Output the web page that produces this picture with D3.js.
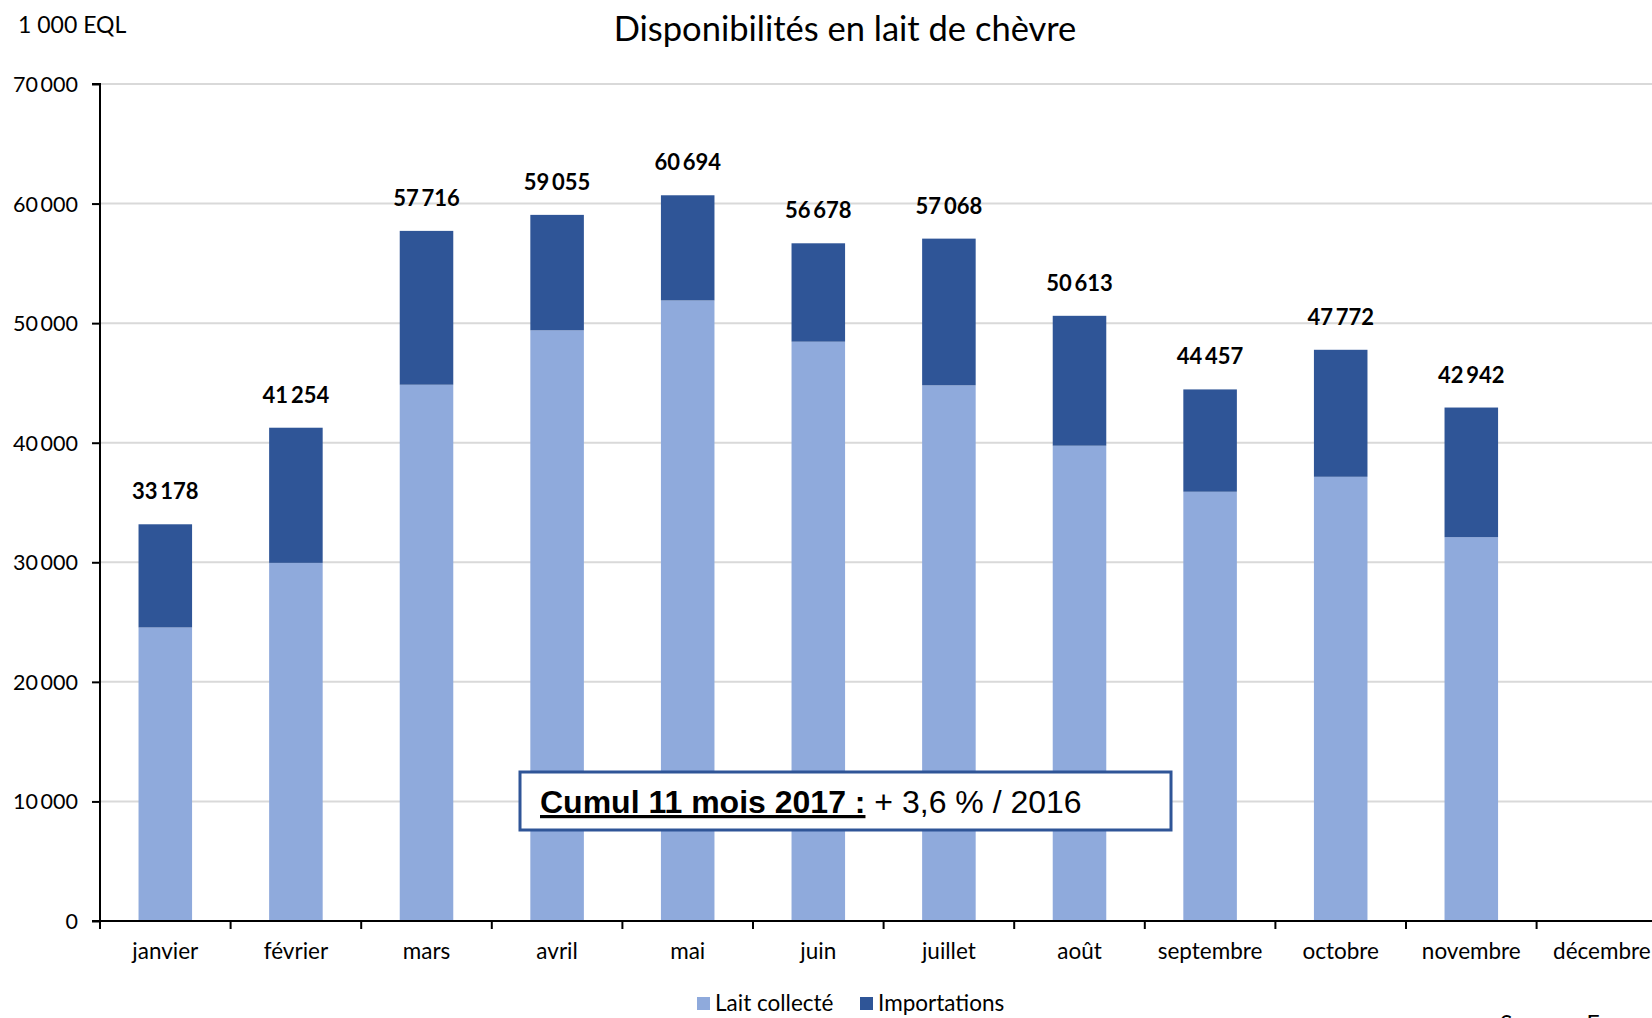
<!DOCTYPE html>
<html>
<head>
<meta charset="utf-8">
<script src="https://cdn.jsdelivr.net/npm/d3@7"></script>
<style>
  html, body { margin: 0; padding: 0; background: #fff; }
  svg { display: block; }
</style>
</head>
<body>
<svg id="chart" width="1652" height="1018"></svg>
<script>
const months = ["janvier","février","mars","avril","mai","juin","juillet","août","septembre","octobre","novembre","décembre"];
const totals = [33178, 41254, 57716, 59055, 60694, 56678, 57068, 50613, 44457, 47772, 42942, null];
const laitCollecte = [24550, 29950, 44850, 49400, 51900, 48450, 44800, 39750, 35900, 37150, 32100, null];
const importations = totals.map((t, i) => t == null ? null : t - laitCollecte[i]);
const yTicks = [0, 10000, 20000, 30000, 40000, 50000, 60000, 70000];
const seriesNames = ["Lait collecté", "Importations"];
const colors = ["#8FAADC", "#2F5597"];
const titleText = "Disponibilités en lait de chèvre";
const unitText = "1 000 EQL";
const noteBold = "Cumul 11 mois 2017 :";
const noteRest = " + 3,6 % / 2016";
const sourceText = "Source : FranceAgriMer";

const svg = d3.select("#chart");
const W = 1652, H = 1018;
const x0 = 100, x1 = 100 + 12 * 130.6;
const yTop = 84, yBot = 921;
const font = "Lato, 'Open Sans', sans-serif";

const x = d3.scaleBand().domain(months).range([x0, x1]).paddingInner(0.59).paddingOuter(0.295);
const xb = d3.scaleBand().domain(months).range([x0, x1]).padding(0);
const y = d3.scaleLinear().domain([0, 70000]).range([yBot, yTop]);
const fmt = v => d3.format(",")(v).replace(/,/g, "\u2009");

// gridlines
svg.append("g").selectAll("line").data(yTicks.filter(d => d > 0)).join("line")
  .attr("x1", x0).attr("x2", W).attr("y1", d => y(d)).attr("y2", d => y(d))
  .attr("stroke", "#d9d9d9").attr("stroke-width", 2);

// stacked bars
const data = months.map((m, i) => ({ m, lait: laitCollecte[i], imp: importations[i], tot: totals[i] })).filter(d => d.tot != null);
const stack = d3.stack().keys(["lait", "imp"])(data);
svg.append("g").selectAll("g").data(stack).join("g")
  .attr("fill", (d, i) => colors[i])
  .selectAll("rect").data(d => d).join("rect")
  .attr("x", d => x(d.data.m)).attr("width", x.bandwidth())
  .attr("y", d => y(d[1])).attr("height", d => y(d[0]) - y(d[1]));

// value labels
svg.append("g").selectAll("text").data(data).join("text")
  .attr("x", d => x(d.m) + x.bandwidth() / 2).attr("y", d => y(d.tot) - 25)
  .attr("text-anchor", "middle").attr("font-family", font).attr("font-weight", "bold")
  .attr("font-size", 22).attr("fill", "#000").text(d => fmt(d.tot));

// y axis
const yAxis = d3.axisLeft(y).tickValues(yTicks).tickSize(8).tickFormat(d => fmt(d));
const gy = svg.append("g").attr("transform", `translate(${x0},0)`).call(yAxis);
gy.select(".domain").attr("stroke", "#000").attr("stroke-width", 2).attr("d", `M-8,${yTop}H0V${yBot}`);
gy.selectAll(".tick line").attr("stroke", "#000").attr("stroke-width", 2);
gy.selectAll(".tick text").attr("font-family", font).attr("font-size", 21.5).attr("fill", "#000").attr("x", -22).attr("dy", "0.35em");

// x axis
const gx = svg.append("g").attr("transform", `translate(0,${yBot})`);
gx.append("line").attr("x1", x0 - 8).attr("x2", W).attr("y1", 0).attr("y2", 0).attr("stroke", "#000").attr("stroke-width", 2);
gx.selectAll("line.tk").data(months).join("line").attr("class", "tk")
  .attr("x1", d => xb(d)).attr("x2", d => xb(d)).attr("y1", 0).attr("y2", 8)
  .attr("stroke", "#000").attr("stroke-width", 2);
gx.selectAll("text").data(months).join("text")
  .attr("x", d => xb(d) + xb.bandwidth() / 2).attr("y", 38)
  .attr("text-anchor", "middle").attr("font-family", font).attr("font-size", 22.5).attr("fill", "#000")
  .text(d => d);

// title & unit
svg.append("text").attr("x", 845).attr("y", 41).attr("text-anchor", "middle")
  .attr("font-family", font).attr("font-size", 34.5).attr("fill", "#000").text(titleText);
svg.append("text").attr("x", 18).attr("y", 33)
  .attr("font-family", font).attr("font-size", 23).attr("fill", "#000").text(unitText);

// annotation box
svg.append("rect").attr("x", 520).attr("y", 772).attr("width", 651).attr("height", 58)
  .attr("fill", "#fff").attr("stroke", "#2F5597").attr("stroke-width", 3);
const note = svg.append("text").attr("x", 540).attr("y", 813)
  .attr("font-family", "'Liberation Sans', Arial, sans-serif").attr("font-size", 32).attr("fill", "#000");
note.append("tspan").attr("font-weight", "bold").attr("text-decoration", "underline").text(noteBold);
note.append("tspan").text(noteRest);

// legend
const legX = [697, 860];
const lg = svg.append("g").selectAll("g").data(seriesNames).join("g")
  .attr("transform", (d, i) => `translate(${legX[i]},997)`);
lg.append("rect").attr("width", 13).attr("height", 13).attr("fill", (d, i) => colors[i]);
lg.append("text").attr("x", 18).attr("y", 14).attr("font-family", font).attr("font-size", 22.5).attr("fill", "#000").text(d => d);

// source (cut at bottom, as in the reference)
svg.append("text").attr("x", 1500).attr("y", 1032).attr("font-family", font).attr("font-size", 23).attr("fill", "#000").text(sourceText);
</script>
</body>
</html>
